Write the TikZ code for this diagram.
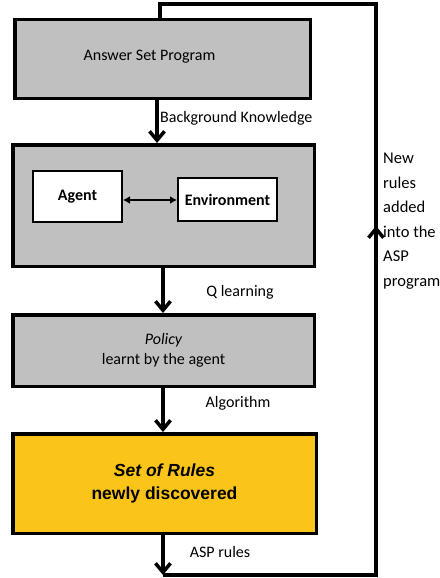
\documentclass[tikz,border=0pt]{standalone}
\usepackage{fontspec}
\setmainfont{Carlito}
\newfontfamily\arialfont{Liberation Sans}
\usetikzlibrary{arrows.meta}
\definecolor{boxgray}{RGB}{192,192,192}
\definecolor{rulegold}{RGB}{250,197,24}
\begin{document}
\begin{tikzpicture}[x=1pt,y=-1pt,
  font=\fontsize{16}{19}\selectfont,
  bigbox/.style={draw=black, line width=3.5pt, fill=boxgray, rectangle, inner sep=0pt},
  smallbox/.style={draw=black, line width=2pt, fill=white, rectangle, inner sep=0pt, font=\fontsize{16}{19}\selectfont\bfseries},
  flow/.style={line width=3.5pt, -{Straight Barb[length=9pt,width=15pt,line width=3.5pt]}},
  loopline/.style={line width=3.5pt},
  lbl/.style={inner sep=0pt}
]
\useasboundingbox (0,0) rectangle (439,578);

% main boxes
\node[bigbox, minimum width=295.5pt, minimum height=78.5pt] (asp) at (162.5,59) {};
\node[lbl] (asptext) at (149.5,57) {Answer Set Program};
\node[bigbox, minimum width=301.5pt, minimum height=121.5pt] (world) at (163.5,205.5) {};
\node[smallbox, minimum width=89pt, minimum height=51pt] (agent) at (77.5,196.5) {Agent};
\node[smallbox, minimum width=99pt, minimum height=43pt] (env) at (227.5,199.5) {Environment};
\node[bigbox, minimum width=301.5pt, minimum height=71.5pt, align=center] (policy) at (163.5,350.5)
  {\itshape Policy\\[1pt] learnt by the agent};
\node[bigbox, fill=rulegold, minimum width=303.5pt, minimum height=99.5pt, align=center,
  font=\arialfont\bfseries\fontsize{17.5}{23}\selectfont] (rules) at (164.5,483.5)
  {\itshape Set of Rules\\ newly discovered};

% agent / environment interaction
\draw[line width=2pt, {Latex[length=7pt,width=8pt]}-{Latex[length=7pt,width=8pt]}]
  (agent.east |- 0,200) -- (env.west |- 0,200);

% downward flow
\draw[flow] ([xshift=-5.5pt]asp.south) -- ([xshift=-6.5pt]world.north);
\draw[flow] ([xshift=-0.5pt]world.south) -- ([xshift=-0.5pt]policy.north);
\draw[flow] ([xshift=-0.5pt]policy.south) -- ([xshift=-1.5pt]rules.north);
\coordinate (bl) at (163,575);
\draw[flow] ([xshift=-1.5pt]rules.south) -- (bl);

% feedback loop back to the program
\coordinate (br) at (376,575);
\coordinate (tr) at (376,4);
\coordinate (tl) at (160,4);
\coordinate (mlo) at (376,240);
\coordinate (mhi) at (376,226);
\draw[loopline] (bl) -- (br) -- (tr) -- (tl) -- (tl |- asp.north);
\draw[line width=3.5pt, -{Straight Barb[length=9pt,width=15pt,line width=3.5pt]}] (mlo) -- (mhi);

% connector labels
\node[lbl, anchor=west] (bk) at (160,118) {Background Knowledge};
\node[lbl] (ql) at (240,292) {Q learning};
\node[lbl] (alg) at (238,403) {Algorithm};
\node[lbl] (asprules) at (220,552) {ASP rules};
\node[lbl, anchor=north west, align=left, font=\fontsize{16.5}{24.5}\selectfont] (newrules) at (383,153)
  {New\\rules\\added\\into the\\ASP\\program};
\end{tikzpicture}
\end{document}
